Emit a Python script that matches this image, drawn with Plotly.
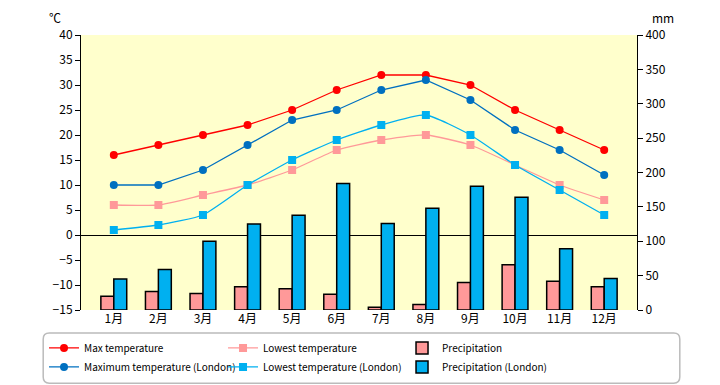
import plotly.graph_objects as go

months = ["1月", "2月", "3月", "4月", "5月", "6月", "7月", "8月", "9月", "10月", "11月", "12月"]
max_temp = [16, 18, 20, 22, 25, 29, 32, 32, 30, 25, 21, 17]
low_temp = [6, 6, 8, 10, 13, 17, 19, 20, 18, 14, 10, 7]
precip = [20, 27, 24, 34, 31, 23, 4, 8, 40, 66, 42, 34]
max_temp_london = [10, 10, 13, 18, 23, 25, 29, 31, 27, 21, 17, 12]
low_temp_london = [1, 2, 4, 10, 15, 19, 22, 24, 20, 14, 9, 4]
precip_london = [45, 59, 100, 125, 138, 184, 126, 148, 180, 164, 89, 46]

FONT = "Noto Sans CJK JP"
RED = "#FF0000"
PINK = "#FF9999"
BLUE = "#0070C0"
CYAN = "#00B0F0"

fig = go.Figure()

def line(name, y, color, symbol, shape):
    return go.Scatter(
        x=months, y=y, name=name, yaxis="y2", mode="lines+markers",
        line=dict(color=color, width=1.3, shape=shape, smoothing=0.5),
        marker=dict(color=color, size=8, symbol=symbol),
    )

def bar(name, y, color):
    return go.Bar(
        x=months, y=y, name=name, yaxis="y",
        marker=dict(color=color, line=dict(color="black", width=1.5)),
    )

fig.add_trace(line("Max temperature", max_temp, RED, "circle", "linear"))
fig.add_trace(line("Lowest temperature", low_temp, PINK, "square", "spline"))
fig.add_trace(bar("Precipitation", precip, PINK))
fig.add_trace(line("Maximum temperature (London)", max_temp_london, BLUE, "circle", "linear"))
fig.add_trace(line("Lowest temperature (London)", low_temp_london, CYAN, "square", "spline"))
fig.add_trace(bar("Precipitation (London)", precip_london, CYAN))

# rounded legend frame (paper coordinates)
x0, x1, y0, y1 = -0.068, 1.077, -0.266, -0.084
rx, ry = 0.011, 0.022
path = (f"M {x0+rx},{y1} L {x1-rx},{y1} Q {x1},{y1} {x1},{y1-ry} "
        f"L {x1},{y0+ry} Q {x1},{y0} {x1-rx},{y0} L {x0+rx},{y0} "
        f"Q {x0},{y0} {x0},{y0+ry} L {x0},{y1-ry} Q {x0},{y1} {x0+rx},{y1} Z")

fig.update_layout(
    width=720, height=385,
    margin=dict(l=81, r=83, t=35, b=75, autoexpand=False),
    paper_bgcolor="white",
    plot_bgcolor="#FFFFCC",
    font=dict(family=FONT, size=12, color="black"),
    barmode="group",
    bargap=0.42,
    bargroupgap=0,
    showlegend=True,
    xaxis=dict(
        showgrid=False, showline=False, ticks="", tickfont=dict(size=12),
        fixedrange=True,
    ),
    yaxis=dict(
        side="right", range=[0, 400], dtick=50, showgrid=False, zeroline=False,
        showline=True, linecolor="black", linewidth=1, ticks="outside",
        ticklen=5, tickcolor="black", tickfont=dict(size=12),
    ),
    yaxis2=dict(
        side="left", overlaying="y", range=[-15, 40], dtick=5, showgrid=False,
        zeroline=True, zerolinecolor="black", zerolinewidth=1.2,
        showline=True, linecolor="black", linewidth=1, ticks="outside",
        ticklen=5, tickcolor="black", tickfont=dict(size=12),
    ),
    legend=dict(
        orientation="h", x=-0.0665, xanchor="left", y=-0.085, yanchor="top",
        entrywidth=134, entrywidthmode="pixels", itemwidth=30,
        traceorder="normal", bgcolor="rgba(0,0,0,0)",
        font=dict(size=10), tracegroupgap=4,
    ),
    shapes=[dict(type="path", path=path, xref="paper", yref="paper",
                 line=dict(color="#BBBBBB", width=1.5), fillcolor="rgba(0,0,0,0)")],
    annotations=[
        dict(text="℃", x=(55 - 81) / 556, y=(310 - 17) / 275, xref="paper", yref="paper",
             xanchor="center", yanchor="middle", showarrow=False, font=dict(size=12)),
        dict(text="mm", x=(663 - 81) / 556, y=(310 - 17) / 275, xref="paper", yref="paper",
             xanchor="center", yanchor="middle", showarrow=False, font=dict(size=12)),
    ],
)

fig.write_html("out.html", config={"displayModeBar": False},
               post_script="document.body.style.margin='0';")
